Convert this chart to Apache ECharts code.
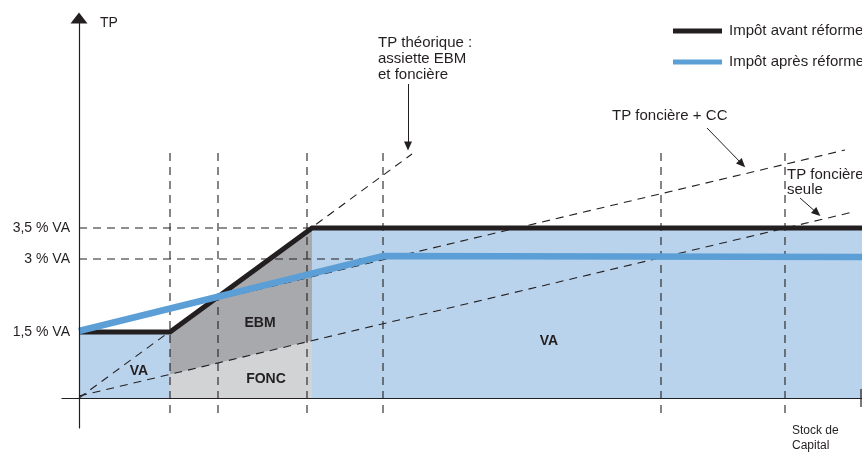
<!DOCTYPE html>
<html>
<head>
<meta charset="utf-8">
<script src="https://cdn.jsdelivr.net/npm/echarts@6/dist/echarts.min.js"></script>
<style>
  html, body { margin: 0; padding: 0; background: #fff; }
  #main { width: 862px; height: 455px; }
</style>
</head>
<body>
<div id="main"></div>
<script>
// schematic units: 1 unit ~ 10 px on both axes
const yTickValues = [6.6, 13.9, 17.0];
const yTickLabels = ['1,5 % VA', '3 % VA', '3,5 % VA'];

const avantReforme = [[0, 6.6], [9.1, 6.6], [23.3, 17.0], [78.3, 17.0]];
const apresReforme = [[0, 6.7], [30.4, 14.2], [78.3, 14.1]];

const tpTheorique = [[0, 0], [33.3, 24.4]];
const tpFonciereCC = [[0, 6.6], [76.6, 24.8]];
const tpFonciereSeule = [[0, 0.2], [77.4, 18.6]];

const guideX = [9.1, 13.9, 22.8, 30.4, 58.2, 70.6];
const guideYRange = [-1.5, 24.8];
const levelLines = [[[0, 17.0], [23.3, 17.0]], [[0, 13.9], [30.4, 13.9]]];

const zoneVaLeft = [[0, 0], [0, 6.6], [9.1, 6.6], [9.1, 0]];
const zoneFonc = [[9.1, 0], [9.1, 2.36], [23.3, 5.74], [23.3, 0]];
const zoneEbm = [[9.1, 2.36], [9.1, 6.6], [23.3, 17.0], [23.3, 5.74]];
const zoneVaRight = [[23.3, 0], [23.3, 17.0], [78.3, 17.0], [78.3, 0]];

const arrows = [
  [[32.9, 31.4], [32.9, 25.2]],
  [[62.8, 27.0], [66.3, 23.4]],
  [[72.1, 20.0], [73.8, 18.5]]
];
const axisEndTick = [[78.2, 0.9], [78.2, -0.9]];

const ink = '#231f20';
const font = "'Liberation Sans', Arial, sans-serif";

const zones = [
  { points: zoneVaLeft, color: '#b9d3ec' },
  { points: zoneFonc, color: '#d1d3d4' },
  { points: zoneEbm, color: '#a7a9ac' },
  { points: zoneVaRight, color: '#b9d3ec' }
];

const dashed = { color: ink, width: 1.1, type: [8, 6] };

const dashSeries = [];
guideX.forEach(x => {
  dashSeries.push([[x, guideYRange[0]], [x, guideYRange[1]]]);
});
levelLines.forEach(l => dashSeries.push(l));
dashSeries.push(tpTheorique, tpFonciereCC, tpFonciereSeule);

const chart = echarts.init(document.getElementById('main'));

const series = [
  {
    type: 'custom',
    z: 1,
    silent: true,
    data: zones.map((z, i) => [z.points[0][0], z.points[0][1], i]),
    renderItem: function (params, api) {
      const zone = zones[params.dataIndex];
      return {
        type: 'polygon',
        shape: { points: zone.points.map(p => api.coord(p)) },
        style: { fill: zone.color }
      };
    }
  }
];

dashSeries.forEach(d => {
  series.push({
    type: 'line', z: 2, silent: true, showSymbol: false,
    data: d, lineStyle: dashed
  });
});

series.push({
  type: 'line', z: 2, silent: true, showSymbol: false,
  data: axisEndTick, lineStyle: { color: ink, width: 1.2 }
});

series.push({
  name: 'Impôt avant réforme',
  type: 'line', z: 3, showSymbol: false,
  data: avantReforme,
  color: ink,
  lineStyle: { color: ink, width: 5, join: 'miter', cap: 'butt' }
});
series.push({
  name: 'Impôt après réforme',
  type: 'line', z: 4, showSymbol: false,
  data: apresReforme,
  color: '#5b9fd6',
  lineStyle: { color: '#5b9fd6', width: 6.5, join: 'miter', cap: 'butt' }
});

series.push({
  type: 'line', z: 5, silent: true, showSymbol: false, data: [],
  markLine: {
    silent: true,
    animation: false,
    symbol: ['none', 'triangle'],
    symbolSize: [8, 9],
    label: { show: false },
    lineStyle: { color: ink, width: 1, type: 'solid' },
    data: arrows.map(a => [{ coord: a[0] }, { coord: a[1] }])
  }
});

const txt = (left, top, text, extra) => ({
  type: 'text', left: left, top: top, z: 20,
  style: Object.assign({ text: text, fill: ink, font: '15px ' + font, lineHeight: 15 }, extra || {})
});
const bold = (cx, cy, text) => ({
  type: 'text', x: cx, y: cy, z: 20,
  style: { text: text, fill: ink, font: 'bold 14px ' + font, align: 'center', verticalAlign: 'middle' }
});

chart.setOption({
  animation: false,
  backgroundColor: '#fff',
  grid: { left: 62, right: 0, top: 18, bottom: 27, containLabel: false, outerBoundsMode: 'none' },
  xAxis: {
    type: 'value', min: -1.7, max: 78.3, z: 10,
    axisLine: { show: true, onZero: true, lineStyle: { color: ink, width: 1.2 } },
    axisTick: { show: false }, axisLabel: { show: false }, splitLine: { show: false }
  },
  yAxis: {
    type: 'value', min: -3, max: 38, z: 10,
    axisLine: {
      show: true, onZero: true,
      symbol: ['none', 'triangle'], symbolSize: [17, 11],
      lineStyle: { color: ink, width: 1.2 }
    },
    axisTick: { show: false },
    splitLine: { show: false },
    axisLabel: {
      customValues: yTickValues,
      margin: -8,
      color: ink,
      fontSize: 14,
      fontFamily: font,
      formatter: v => yTickLabels[yTickValues.indexOf(v)] || ''
    }
  },
  legend: {
    orient: 'vertical',
    left: 668, top: 17,
    icon: 'rect',
    itemWidth: 49, itemHeight: 5,
    itemGap: 13,
    data: ['Impôt avant réforme', 'Impôt après réforme'],
    textStyle: { color: ink, fontSize: 15, fontFamily: font, lineHeight: 18, padding: [0, 0, 0, 2] }
  },
  graphic: [
    txt(100, 16, 'TP', { font: '14px ' + font }),
    txt(378, 35, 'TP théorique :\nassiette EBM\net foncière', { lineHeight: 16 }),
    txt(612, 108, 'TP foncière + CC'),
    txt(787, 167, 'TP foncière\nseule'),
    txt(792, 423, 'Stock de\nCapital', { font: '12px ' + font, lineHeight: 15 }),
    bold(139, 371, 'VA'),
    bold(260, 323, 'EBM'),
    bold(266, 379, 'FONC'),
    bold(549, 341, 'VA')
  ],
  series: series
});
</script>
</body>
</html>
